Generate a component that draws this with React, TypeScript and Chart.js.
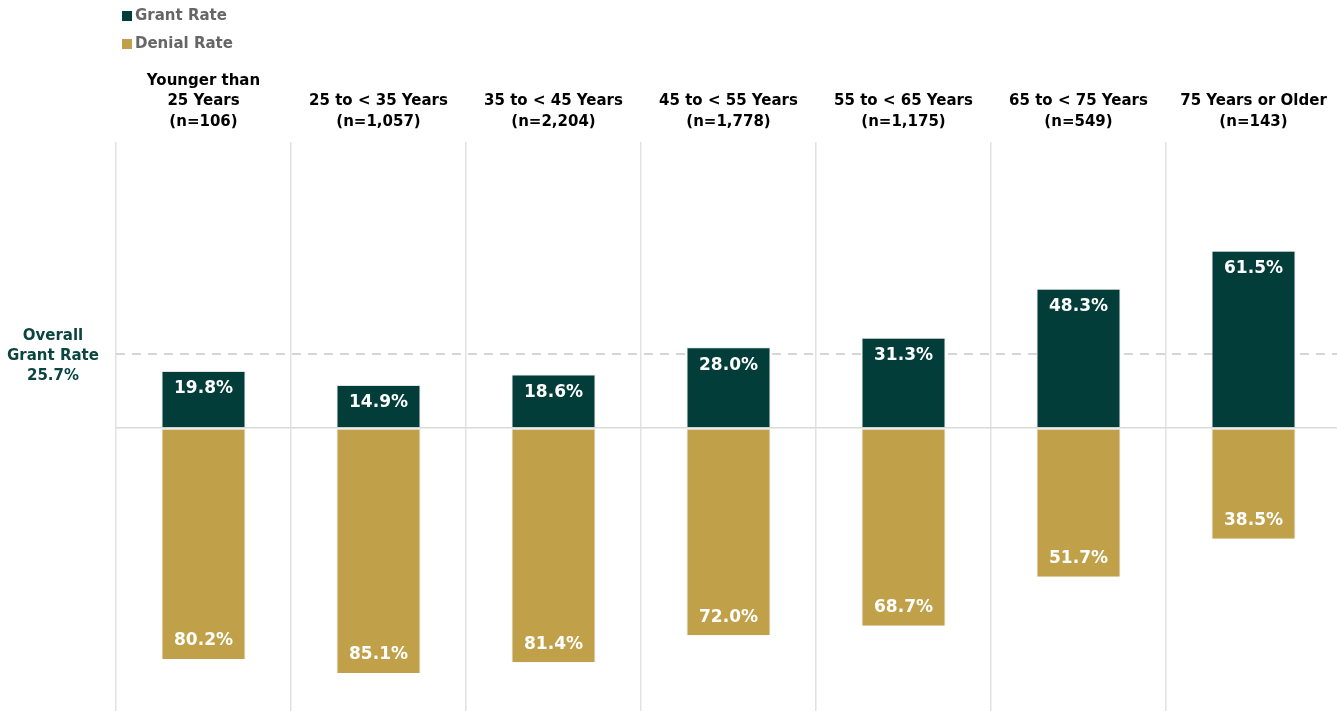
import React, { useEffect, useRef } from "react";
import { Chart, registerables } from "chart.js";
Chart.register(...registerables);

const categories: string[][] = [
  ["Younger than", "25 Years", "(n=106)"],
  ["25 to < 35 Years", "(n=1,057)"],
  ["35 to < 45 Years", "(n=2,204)"],
  ["45 to < 55 Years", "(n=1,778)"],
  ["55 to < 65 Years", "(n=1,175)"],
  ["65 to < 75 Years", "(n=549)"],
  ["75 Years or Older", "(n=143)"],
];
const grantRate = [19.8, 14.9, 18.6, 28.0, 31.3, 48.3, 61.5];
const denialRate = [80.2, 85.1, 81.4, 72.0, 68.7, 51.7, 38.5];
const overallGrantRate = 25.7;
const seriesNames = ["Grant Rate", "Denial Rate"];
const overallLabel = ["Overall", "Grant Rate", "25.7%"];

const GREEN = "#023d39";
const GOLD = "#c0a049";
const FONT = "'DejaVu Sans', sans-serif";

const refLinePlugin = {
  id: "refLine",
  beforeDatasetsDraw(chart: any) {
    const { ctx, chartArea, scales } = chart;
    const y = scales.y.getPixelForValue(overallGrantRate);
    ctx.save();
    ctx.strokeStyle = "#d6d6d6";
    ctx.lineWidth = 2;
    ctx.setLineDash([9, 7]);
    ctx.beginPath();
    ctx.moveTo(chartArea.left, y);
    ctx.lineTo(chart.width, y);
    ctx.stroke();
    ctx.restore();
  },
  afterDraw(chart: any) {
    const { ctx, scales } = chart;
    const y = scales.y.getPixelForValue(overallGrantRate);
    ctx.save();
    ctx.fillStyle = "#0b4540";
    ctx.font = `bold 15px ${FONT}`;
    ctx.textAlign = "center";
    ctx.textBaseline = "middle";
    const lh = 20;
    overallLabel.forEach((t, i) => {
      ctx.fillText(t, 53, y + 2 + (i - 1) * lh);
    });
    ctx.restore();
  },
};

const valueLabelPlugin = {
  id: "valueLabels",
  afterDatasetsDraw(chart: any) {
    const { ctx } = chart;
    ctx.save();
    ctx.fillStyle = "#ffffff";
    ctx.font = `bold 17px ${FONT}`;
    ctx.textAlign = "center";
    ctx.textBaseline = "middle";
    chart.data.datasets.forEach((ds: any, di: number) => {
      const meta = chart.getDatasetMeta(di);
      meta.data.forEach((el: any, i: number) => {
        const v = Math.abs(ds.data[i]);
        const txt = v.toFixed(1) + "%";
        const y = di === 0 ? el.y + 18 : el.y - 18;
        ctx.fillText(txt, el.x, y);
      });
    });
    ctx.restore();
  },
};

const legendPlugin = {
  id: "customLegend",
  afterDraw(chart: any) {
    const { ctx } = chart;
    const colors = [GREEN, GOLD];
    ctx.save();
    ctx.font = `bold 15px ${FONT}`;
    ctx.textBaseline = "middle";
    ctx.textAlign = "left";
    seriesNames.forEach((name, i) => {
      const cy = 16 + i * 28;
      ctx.fillStyle = colors[i];
      ctx.fillRect(122, cy - 5, 10, 10);
      ctx.fillStyle = "#666666";
      ctx.fillText(name, 135, cy);
    });
    ctx.restore();
  },
};

export default function App() {
  const ref = useRef<HTMLCanvasElement>(null);
  useEffect(() => {
    if (!ref.current) return;
    const chart = new Chart(ref.current, {
      type: "bar",
      data: {
        labels: categories as any,
        datasets: [
          {
            label: seriesNames[0],
            data: grantRate,
            backgroundColor: GREEN,
            borderColor: "#e4e4e4",
            borderWidth: 1,
            borderSkipped: "bottom",
          },
          {
            label: seriesNames[1],
            data: denialRate.map((v) => -v),
            backgroundColor: GOLD,
            borderColor: "#e4e4e4",
            borderWidth: 1,
            borderSkipped: "top",
          },
        ],
      },
      options: {
        animation: false,
        responsive: true,
        maintainAspectRatio: false,
        layout: { padding: { top: 62, left: 116, right: 0, bottom: 0 } },
        datasets: {
          bar: { categoryPercentage: 1, barPercentage: 0.48 },
        },
        plugins: {
          legend: { display: false },
          tooltip: { enabled: false },
        },
        scales: {
          x: {
            position: "top",
            stacked: true,
            afterFit: (scale: any) => {
              scale.height = 80;
            },
            border: { display: false },
            grid: {
              offset: true,
              color: "#e2e2e2",
              lineWidth: 1.5,
              drawTicks: false,
            },
            ticks: {
              autoSkip: false,
              maxRotation: 0,
              padding: 10,
              color: "#000000",
              font: { family: FONT, size: 15, weight: "bold", lineHeight: 1.37 },
            },
          },
          y: {
            stacked: true,
            min: -98.3,
            max: 99.3,
            border: { display: false },
            afterBuildTicks: (scale: any) => {
              scale.ticks = [{ value: 0 }];
            },
            grid: {
              color: "#dadada",
              lineWidth: 1.5,
              drawTicks: false,
            },
            ticks: { display: false },
          },
        },
      },
      plugins: [refLinePlugin, valueLabelPlugin, legendPlugin],
    });
    return () => chart.destroy();
  }, []);
  return (
    <div
      style={{
        position: "fixed",
        left: 0,
        top: 0,
        width: 1337,
        height: 711,
        overflow: "hidden",
        background: "#ffffff",
      }}
    >
      <div style={{ position: "relative", width: 1341, height: 711 }}>
        <canvas ref={ref} />
      </div>
    </div>
  );
}
